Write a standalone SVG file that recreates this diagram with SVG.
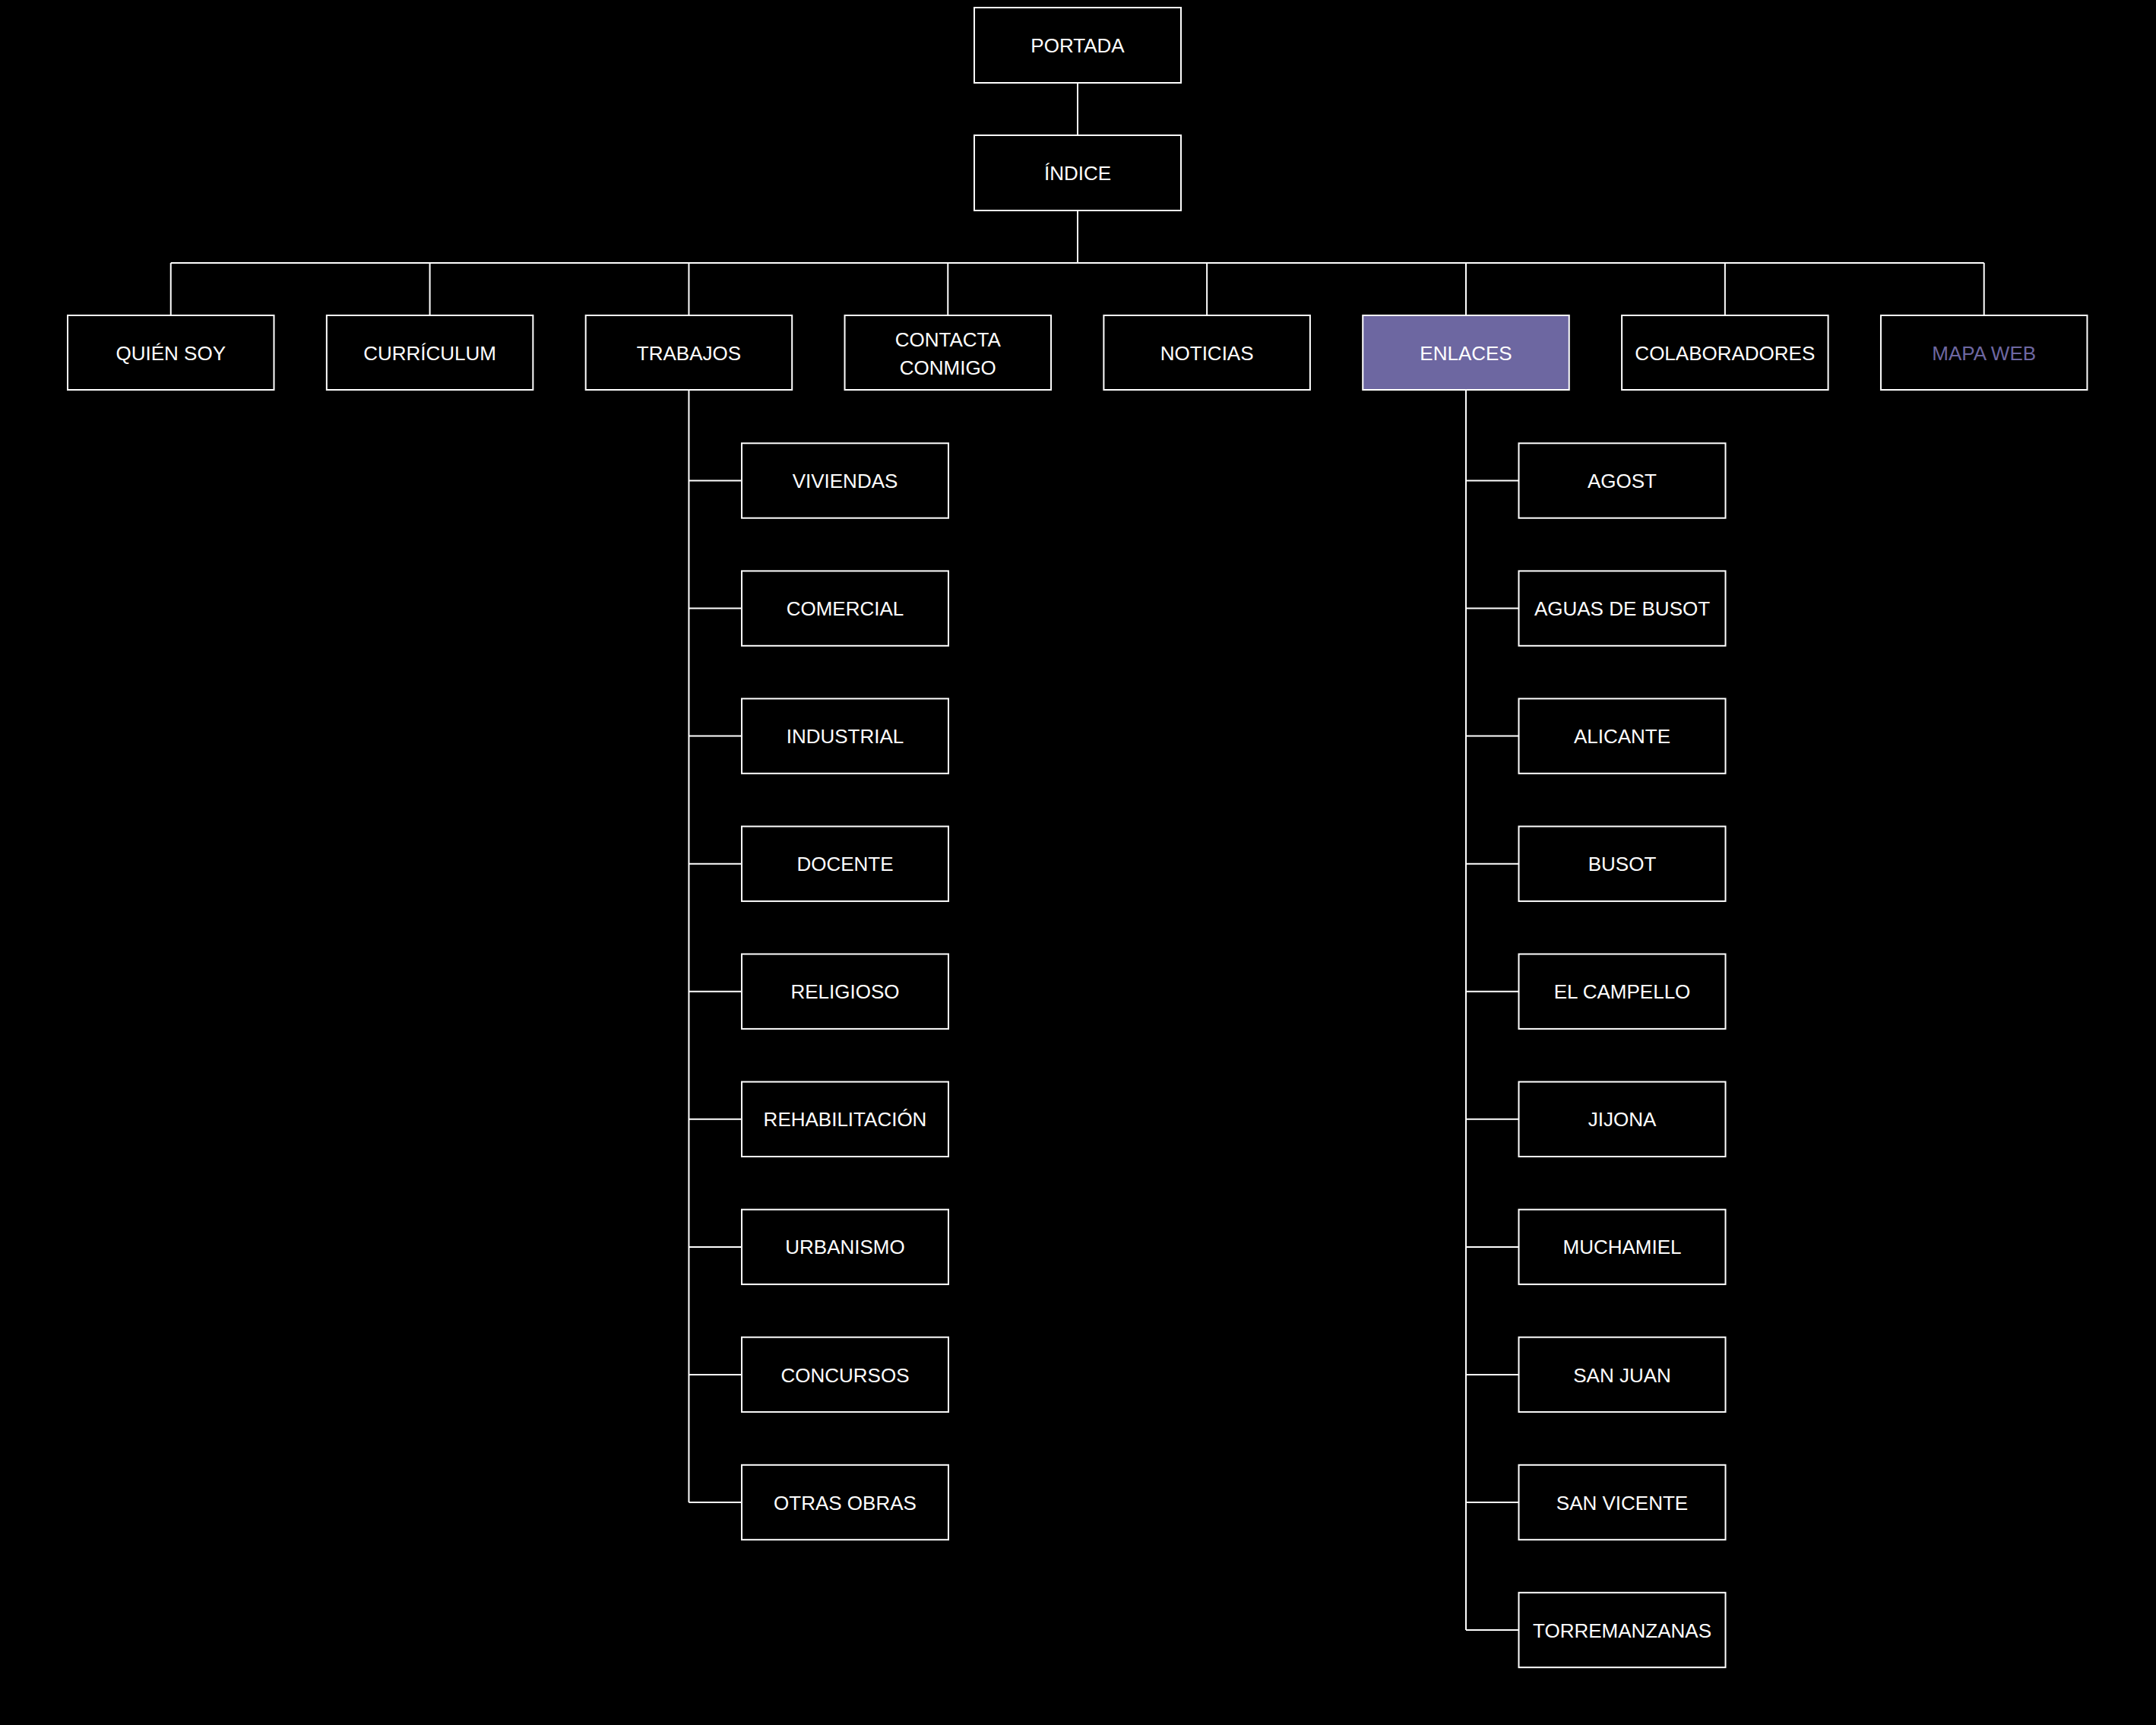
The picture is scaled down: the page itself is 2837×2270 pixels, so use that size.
<svg xmlns="http://www.w3.org/2000/svg" width="2837" height="2270" viewBox="0 0 2837 2270">
<style>
.box{fill:#000;stroke:#fff;stroke-width:2}
.hl{fill:#6D67A1;stroke:#fff;stroke-width:2}
.t{font-family:"Liberation Sans",Arial,sans-serif;font-size:26px;fill:#fff;text-anchor:middle}
.tp{fill:#6D67A1}
.c{stroke:#fff;stroke-width:2;fill:none}
</style>
<rect width="2837" height="2270" fill="#000"/>
<g id="connectors">
<path class="c" d="M1418 109V178M1418 277V346M224.75 346H2610.7M224.75 346V415M565.6 346V415M906.45 346V415M1247.3 346V415M1588.15 346V415M1929 346V415M2269.85 346V415M2610.7 346V415"/>
<path class="c" d="M906.45 513V1977M906.45 632.5H976M906.45 800.6H976M906.45 968.6H976M906.45 1136.7H976M906.45 1304.7H976M906.45 1472.8H976M906.45 1640.9H976M906.45 1808.9H976M906.45 1977H976"/>
<path class="c" d="M1929 513V2145M1929 632.5H1998.5M1929 800.6H1998.5M1929 968.6H1998.5M1929 1136.7H1998.5M1929 1304.7H1998.5M1929 1472.8H1998.5M1929 1640.9H1998.5M1929 1808.9H1998.5M1929 1977H1998.5M1929 2145H1998.5"/>
</g>
<g id="portada"><rect class="box" x="1282" y="10" width="272" height="99"/><text class="t" x="1418" y="69">PORTADA</text></g>
<g id="indice"><rect class="box" x="1282" y="178" width="272" height="99"/><text class="t" x="1418" y="237">ÍNDICE</text></g>
<g id="quien-soy"><rect class="box" x="89" y="415" width="271.5" height="98"/><text class="t" x="224.75" y="473.5">QUIÉN SOY</text></g>
<g id="curriculum"><rect class="box" x="429.85" y="415" width="271.5" height="98"/><text class="t" x="565.6" y="473.5">CURRÍCULUM</text></g>
<g id="trabajos"><rect class="box" x="770.7" y="415" width="271.5" height="98"/><text class="t" x="906.45" y="473.5">TRABAJOS</text></g>
<g id="contacta"><rect class="box" x="1111.55" y="415" width="271.5" height="98"/><text class="t" x="1247.3" y="456">CONTACTA</text><text class="t" x="1247.3" y="493">CONMIGO</text></g>
<g id="noticias"><rect class="box" x="1452.4" y="415" width="271.5" height="98"/><text class="t" x="1588.15" y="473.5">NOTICIAS</text></g>
<g id="enlaces"><rect class="hl" x="1793.25" y="415" width="271.5" height="98"/><text class="t" x="1929" y="473.5">ENLACES</text></g>
<g id="colaboradores"><rect class="box" x="2134.1" y="415" width="271.5" height="98"/><text class="t" x="2269.85" y="473.5">COLABORADORES</text></g>
<g id="mapa-web"><rect class="box" x="2474.95" y="415" width="271.5" height="98"/><text class="t tp" x="2610.7" y="473.5">MAPA WEB</text></g>
<g id="viviendas"><rect class="box" x="976" y="583.3" width="272" height="98.4"/><text class="t" x="1112" y="642">VIVIENDAS</text></g>
<g id="comercial"><rect class="box" x="976" y="751.4" width="272" height="98.4"/><text class="t" x="1112" y="810.1">COMERCIAL</text></g>
<g id="industrial"><rect class="box" x="976" y="919.4" width="272" height="98.4"/><text class="t" x="1112" y="978.1">INDUSTRIAL</text></g>
<g id="docente"><rect class="box" x="976" y="1087.5" width="272" height="98.4"/><text class="t" x="1112" y="1146.2">DOCENTE</text></g>
<g id="religioso"><rect class="box" x="976" y="1255.5" width="272" height="98.4"/><text class="t" x="1112" y="1314.3">RELIGIOSO</text></g>
<g id="rehabilitacion"><rect class="box" x="976" y="1423.6" width="272" height="98.4"/><text class="t" x="1112" y="1482.3">REHABILITACIÓN</text></g>
<g id="urbanismo"><rect class="box" x="976" y="1591.7" width="272" height="98.4"/><text class="t" x="1112" y="1650.4">URBANISMO</text></g>
<g id="concursos"><rect class="box" x="976" y="1759.7" width="272" height="98.4"/><text class="t" x="1112" y="1818.5">CONCURSOS</text></g>
<g id="otras-obras"><rect class="box" x="976" y="1927.8" width="272" height="98.4"/><text class="t" x="1112" y="1986.5">OTRAS OBRAS</text></g>
<g id="agost"><rect class="box" x="1998.5" y="583.3" width="272" height="98.4"/><text class="t" x="2134.5" y="642">AGOST</text></g>
<g id="aguas-de-busot"><rect class="box" x="1998.5" y="751.4" width="272" height="98.4"/><text class="t" x="2134.5" y="810.1">AGUAS DE BUSOT</text></g>
<g id="alicante"><rect class="box" x="1998.5" y="919.4" width="272" height="98.4"/><text class="t" x="2134.5" y="978.1">ALICANTE</text></g>
<g id="busot"><rect class="box" x="1998.5" y="1087.5" width="272" height="98.4"/><text class="t" x="2134.5" y="1146.2">BUSOT</text></g>
<g id="el-campello"><rect class="box" x="1998.5" y="1255.5" width="272" height="98.4"/><text class="t" x="2134.5" y="1314.3">EL CAMPELLO</text></g>
<g id="jijona"><rect class="box" x="1998.5" y="1423.6" width="272" height="98.4"/><text class="t" x="2134.5" y="1482.3">JIJONA</text></g>
<g id="muchamiel"><rect class="box" x="1998.5" y="1591.7" width="272" height="98.4"/><text class="t" x="2134.5" y="1650.4">MUCHAMIEL</text></g>
<g id="san-juan"><rect class="box" x="1998.5" y="1759.7" width="272" height="98.4"/><text class="t" x="2134.5" y="1818.5">SAN JUAN</text></g>
<g id="san-vicente"><rect class="box" x="1998.5" y="1927.8" width="272" height="98.4"/><text class="t" x="2134.5" y="1986.5">SAN VICENTE</text></g>
<g id="torremanzanas"><rect class="box" x="1998.5" y="2095.8" width="272" height="98.4"/><text class="t" x="2134.5" y="2154.6">TORREMANZANAS</text></g>
</svg>
